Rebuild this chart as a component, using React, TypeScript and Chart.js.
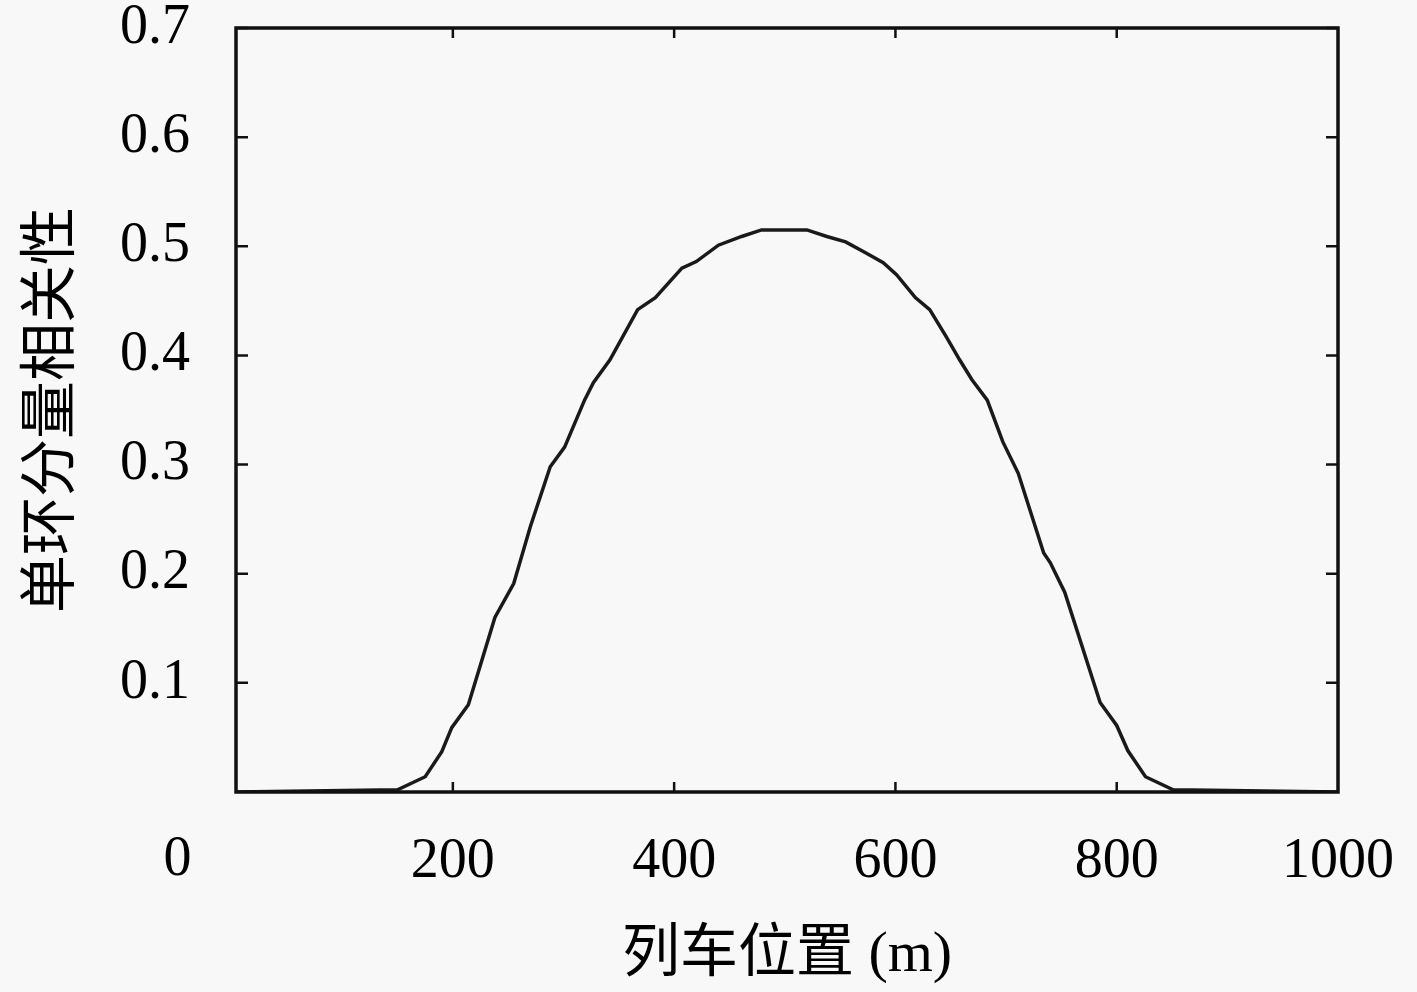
import React, { useEffect, useRef } from 'react';
import { Chart, registerables } from 'chart.js';

Chart.register(...registerables);

// train position (m) and single-loop component correlation
const positions = [
  4, 150, 175, 190, 199, 214, 238, 255, 270, 288, 301, 319, 327, 342, 367, 383, 407, 420, 440, 461, 479,
  520, 538, 555, 573, 589, 601, 618, 631, 646, 658, 669, 683, 697, 711, 734, 740, 753, 785, 800, 810, 826, 851, 1000,
];
const correlation = [
  0, 0.002, 0.014, 0.037, 0.059, 0.08, 0.16, 0.191, 0.243, 0.298, 0.316, 0.359, 0.375, 0.396, 0.442, 0.453, 0.48, 0.486, 0.501, 0.509, 0.515,
  0.515, 0.509, 0.504, 0.494, 0.485, 0.474, 0.453, 0.442, 0.417, 0.396, 0.378, 0.359, 0.321, 0.292, 0.219, 0.21, 0.183, 0.082, 0.061, 0.038, 0.014, 0.002, 0,
];
const xTicks = [0, 200, 400, 600, 800, 1000];
const yTicks = [0.1, 0.2, 0.3, 0.4, 0.5, 0.6, 0.7];

const xTitle = '列车位置 (m)';
const yTitle = '单环分量相关性';

const serif = '"Liberation Serif", "Noto Sans CJK SC", serif';

// box around the plot with inward ticks on all four sides
const boxPlugin = {
  id: 'boxFrame',
  afterDraw(chart: any) {
    const { ctx, chartArea } = chart;
    const { left, right, top, bottom } = chartArea;
    const xs = chart.scales.x;
    const ys = chart.scales.y;
    ctx.save();
    ctx.strokeStyle = '#111';
    ctx.lineWidth = 2.5;
    ctx.beginPath();
    yTicks.forEach((v) => {
      const py = ys.getPixelForValue(v);
      ctx.moveTo(left, py);
      ctx.lineTo(left + 12, py);
      ctx.moveTo(right, py);
      ctx.lineTo(right - 12, py);
    });
    xTicks.forEach((v) => {
      if (v <= xs.min || v >= xs.max) return;
      const px = xs.getPixelForValue(v);
      ctx.moveTo(px, bottom);
      ctx.lineTo(px, bottom - 10);
      ctx.moveTo(px, top);
      ctx.lineTo(px, top + 10);
    });
    ctx.stroke();
    ctx.lineWidth = 3.5;
    ctx.strokeRect(left, top, right - left, bottom - top);

    // the "0" label sits off to the left of the axis corner in the original
    ctx.font = `56px ${serif}`;
    ctx.fillStyle = '#000';
    ctx.textAlign = 'center';
    ctx.textBaseline = 'middle';
    ctx.fillText(String(xTicks[0]), xs.getPixelForValue(xTicks[0]) - 54, bottom + 68);
    ctx.restore();
  },
};

const App: React.FC = () => {
  const canvasRef = useRef<HTMLCanvasElement>(null);

  useEffect(() => {
    const ctx = canvasRef.current?.getContext('2d');
    if (!ctx) return;
    const chart = new Chart(ctx, {
      type: 'line',
      data: {
        datasets: [
          {
            data: positions.map((p, i) => ({ x: p, y: correlation[i] })),
            borderColor: '#1a1a1a',
            borderWidth: 3.5,
            pointRadius: 0,
            tension: 0,
            fill: false,
          },
        ],
      },
      options: {
        animation: false,
        responsive: true,
        maintainAspectRatio: false,
        layout: { padding: { top: 28, right: 79, left: 0, bottom: 0 } },
        plugins: { legend: { display: false }, tooltip: { enabled: false } },
        scales: {
          x: {
            type: 'linear',
            min: 4,
            max: 1000,
            afterBuildTicks: (scale: any) => {
              scale.ticks = xTicks.filter((v) => v >= 4).map((v) => ({ value: v }));
            },
            afterFit: (scale: any) => {
              scale.height = 200;
              scale.paddingLeft = 0;
              scale.paddingRight = 0;
            },
            grid: { display: false, drawTicks: false },
            border: { display: false },
            ticks: {
              color: '#000',
              font: { family: serif, size: 56 },
              padding: 37,
              maxRotation: 0,
              autoSkip: false,
              callback: (v: any) => String(v),
            },
            title: {
              display: true,
              text: xTitle,
              color: '#000',
              font: { family: serif, size: 58 },
              padding: { top: 0, bottom: 1 },
            },
          },
          y: {
            type: 'linear',
            min: 0,
            max: 0.7,
            afterBuildTicks: (scale: any) => {
              scale.ticks = yTicks.map((v) => ({ value: v }));
            },
            afterFit: (scale: any) => {
              scale.width = 236;
              scale.paddingTop = 0;
              scale.paddingBottom = 0;
            },
            grid: { display: false, drawTicks: false },
            border: { display: false },
            ticks: {
              color: '#000',
              font: { family: serif, size: 56 },
              padding: 46,
              autoSkip: false,
              callback: (v: any) => Number(v).toFixed(1),
            },
            title: {
              display: true,
              text: yTitle,
              color: '#000',
              font: { family: serif, size: 58 },
              padding: { top: 19, bottom: 0 },
            },
          },
        },
      },
      plugins: [boxPlugin],
    });
    return () => {
      chart.destroy();
    };
  }, []);

  return (
    <div style={{ position: 'fixed', left: 0, top: 0, width: 1417, height: 992, background: '#f8f8f8' }}>
      <canvas ref={canvasRef}></canvas>
    </div>
  );
};

export default App;
